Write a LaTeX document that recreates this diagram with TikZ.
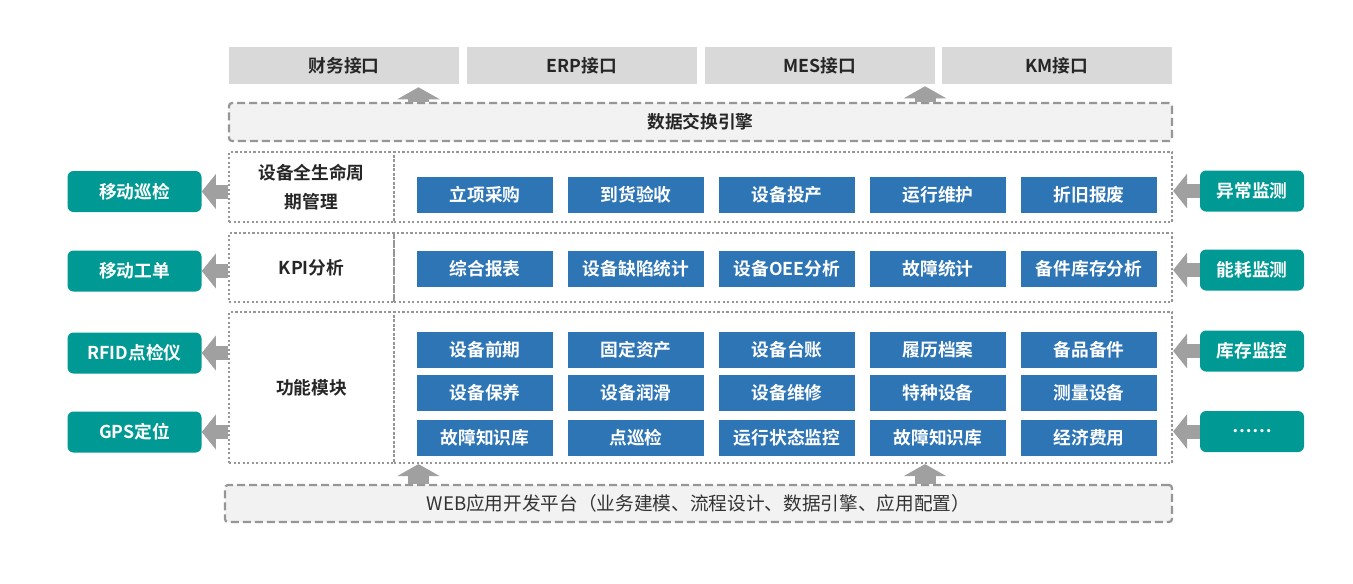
\documentclass[tikz,border=0pt]{standalone}
\usepackage{fontspec}
\setmainfont{Noto Sans CJK SC}[BoldFont={Noto Sans CJK SC Bold}]
\usetikzlibrary{arrows.meta}
\definecolor{modulblau}{RGB}{46,117,182}
\definecolor{tuerkis}{RGB}{0,153,148}
\definecolor{pfeilgrau}{RGB}{160,160,160}
\definecolor{kastengrau}{RGB}{217,217,217}
\definecolor{rahmengrau}{RGB}{150,150,150}
\definecolor{flaechegrau}{RGB}{242,242,242}
\def\pxl{0.75pt}
\tikzset{
  schrift/.style={font=\bfseries\fontsize{13.3}{15}\selectfont},
  schnittstelle/.style={schrift, fill=kastengrau, text=black!85, inner sep=0pt,
    minimum width=230*\pxl, minimum height=37*\pxl},
  plattform/.style={draw=rahmengrau, fill=flaechegrau, line width=2.2*\pxl,
    dash pattern=on 8*\pxl off 4*\pxl, rounded corners=3*\pxl, inner sep=0pt},
  punktrahmen/.style={draw=rahmengrau, line width=2.2*\pxl, dash pattern=on 2.2*\pxl off 2.3*\pxl,
    inner sep=0pt, schrift, text=black!85, align=center},
  modul/.style={schrift, fill=modulblau, text=white, inner sep=0pt,
    minimum width=136*\pxl, minimum height=36*\pxl},
  aussen/.style={schrift, fill=tuerkis, text=white, inner sep=0pt,
    rounded corners=6*\pxl, minimum height=41*\pxl},
  blockpfeil/.style={draw=pfeilgrau, line width=#1*\pxl,
    -{Triangle[length=14*\pxl, width=34*\pxl]}},
  blockpfeil/.default=14,
  hochpfeil/.style={draw=pfeilgrau, line width=21*\pxl,
    -{Triangle[length=12*\pxl, width=42*\pxl]}}
}
\begin{document}
\begin{tikzpicture}[x=\pxl, y=-\pxl]
\useasboundingbox (0,0) rectangle (1353,583);
% Schnittstellen oben
\node[schnittstelle] (finanz) at (344,65.5) {财务接口};
\node[schnittstelle] (erp) at (582,65.5) {ERP接口};
\node[schnittstelle] (mes) at (820,65.5) {MES接口};
\node[schnittstelle] (km) at (1057,65.5) {KM接口};
% Datenaustausch
\node[plattform, schrift, text=black!85, minimum width=943*\pxl, minimum height=38*\pxl] (engine) at (700.5,122) {数据交换引擎};
% drei Zeilen mit punktiertem Rahmen
\node[punktrahmen, minimum width=165*\pxl, minimum height=70*\pxl] (lbl1) at (311.5,187) {设备全生命周\\[7pt]期管理};
\node[punktrahmen, minimum width=778*\pxl, minimum height=70*\pxl] (inh1) at (783,187) {};
\node[punktrahmen, minimum width=165*\pxl, minimum height=69*\pxl] (lbl2) at (311.5,267.5) {KPI分析};
\node[punktrahmen, minimum width=778*\pxl, minimum height=69*\pxl] (inh2) at (783,267.5) {};
\node[punktrahmen, minimum width=165*\pxl, minimum height=151*\pxl] (lbl3) at (311.5,387.5) {功能模块};
\node[punktrahmen, minimum width=778*\pxl, minimum height=151*\pxl] (inh3) at (783,387.5) {};
% blaue Module
\foreach \txt [count=\i] in {立项采购,到货验收,设备投产,运行维护,折旧报废}
  \node[modul] (a\i) at (334+151*\i,194.5) {\txt};
\foreach \txt [count=\i] in {综合报表,设备缺陷统计,设备OEE分析,故障统计,备件库存分析}
  \node[modul] (b\i) at (334+151*\i,268.5) {\txt};
\foreach \txt [count=\i] in {设备前期,固定资产,设备台账,履历档案,备品备件}
  \node[modul] (c\i) at (334+151*\i,349.5) {\txt};
\foreach \txt [count=\i] in {设备保养,设备润滑,设备维修,特种设备,测量设备}
  \node[modul] (d\i) at (334+151*\i,392.5) {\txt};
\foreach \txt [count=\i] in {故障知识库,点巡检,运行状态监控,故障知识库,经济费用}
  \node[modul] (e\i) at (334+151*\i,437.5) {\txt};
% Plattform unten
\node[plattform, font=\fontsize{14}{16}\selectfont, text=black!80, minimum width=947*\pxl, minimum height=37*\pxl] (web) at (698.5,503.5) {WEB应用开发平台（业务建模、流程设计、数据引擎、应用配置）};
% Aussenanbindung links
\node[aussen, minimum width=134*\pxl] (links1) at (134.5,191.5) {移动巡检};
\node[aussen, minimum width=134*\pxl] (links2) at (134.5,271) {移动工单};
\node[aussen, minimum width=134*\pxl] (links3) at (134.5,353) {RFID点检仪};
\node[aussen, minimum width=134*\pxl] (links4) at (134.5,432) {GPS定位};
% Aussenanbindung rechts
\node[aussen, minimum width=104*\pxl] (rechts1) at (1252,191) {异常监测};
\node[aussen, minimum width=104*\pxl] (rechts2) at (1252,270) {能耗监测};
\node[aussen, minimum width=104*\pxl] (rechts3) at (1252,351) {库存监控};
\node[aussen, minimum width=104*\pxl] (rechts4) at (1252,431.5) {……};
% Pfeile
\coordinate (p1) at (418.5,0);
\coordinate (p2) at (925,0);
\draw[hochpfeil] (engine.north -| p1) -- ([yshift=-3*\pxl]finanz.south -| p1);
\draw[hochpfeil] (engine.north -| p2) -- ([yshift=-2*\pxl]mes.south -| p2);
\draw[hochpfeil] (web.north -| p1) -- (inh3.south -| p1);
\draw[hochpfeil] (web.north -| p2) -- (inh3.south -| p2);
\draw[blockpfeil] (lbl1.west |- links1) -- (links1.east);
\draw[blockpfeil] (lbl2.west |- links2) -- (links2.east);
\draw[blockpfeil] (lbl3.west |- links3) -- (links3.east);
\draw[blockpfeil] (lbl3.west |- links4) -- (links4.east);
\draw[blockpfeil] (rechts1.west) -- (inh1.east |- rechts1);
\draw[blockpfeil] (rechts2.west) -- (inh2.east |- rechts2);
\draw[blockpfeil] (rechts3.west) -- (inh3.east |- rechts3);
\draw[blockpfeil] (rechts4.west) -- (inh3.east |- rechts4);
\end{tikzpicture}
\end{document}
